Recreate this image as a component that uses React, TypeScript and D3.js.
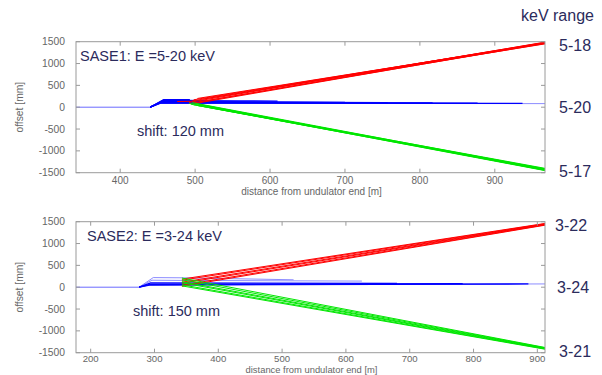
import React from "react";
import * as d3 from "d3";

type Pt = [number, number];

// ---------- data ----------
const yTicks = [1500, 1000, 500, 0, -500, -1000, -1500];
const sase1XTicks = [400, 500, 600, 700, 800, 900];
const sase2XTicks = [200, 300, 400, 500, 600, 700, 800, 900];
const sase1XDomain: Pt = [341, 967];
const sase2XDomain: Pt = [177, 912];
const yDomain: Pt = [-1500, 1500];

const sase1Title = "SASE1: E =5-20 keV";
const sase2Title = "SASE2: E =3-24 keV";
const sase1Shift = "shift: 120 mm";
const sase2Shift = "shift: 150 mm";
const rangeHeader = "keV range";
const sase1Ranges = ["5-18", "5-20", "5-17"];
const sase2Ranges = ["3-22", "3-24", "3-21"];
const xLabel = "distance from undulator end [m]";
const yLabel = "offset [mm]";

const sase1BaseLine: Pt[] = [[341, 0], [440, 0]];
const sase1Blue: Pt[][] = [
  [[440, 0], [458, 175], [493, 172]],
  [[440, 0], [457, 155], [560, 145], [610, 140]],
  [[440, 0], [456, 135], [700, 112]],
  [[440, 0], [455, 122], [757, 102]],
  [[440, 0], [455, 112], [817, 96]],
  [[440, 0], [454, 102], [877, 90]],
  [[440, 0], [454, 95], [937, 86]],
];
const sase1LightBlue: Pt[][] = [
  [[454, 90], [967, 82]],
  [[475, 160], [510, 160]],
];
const sase1Red: Pt[][] = [
  [[476, 130], [495, 135]],
  [[492, 110], [967, 1490]],
  [[495, 140], [967, 1485]],
  [[497, 95], [967, 1480]],
  [[498, 170], [967, 1475]],
  [[500, 85], [967, 1470]],
  [[503, 200], [967, 1465]],
  [[506, 125], [967, 1458]],
  [[510, 185], [967, 1450]],
];
const sase1Green: Pt[][] = [
  [[492, 90], [967, -1400]],
  [[494, 70], [967, -1410]],
  [[496, 105], [967, -1418]],
  [[498, 55], [967, -1425]],
  [[500, 80], [967, -1432]],
  [[503, 40], [967, -1440]],
  [[506, 65], [967, -1446]],
  [[509, 30], [967, -1452]],
];

const sase2BaseLine: Pt[] = [[177, 0], [276, 0]];
const sase2Blue: Pt[][] = [
  [[276, 0], [294, 100], [680, 88]],
  [[276, 0], [293, 65], [783, 80]],
  [[276, 0], [292, 50], [886, 75]],
];
const sase2LightBlue: Pt[][] = [
  [[276, 0], [298, 220], [345, 215], [518, 170]],
  [[276, 0], [296, 160], [345, 155], [625, 140]],
  [[292, 50], [912, 75]],
];
const sase2Red: Pt[][] = [
  [[343, 20], [912, 1420]],
  [[343, 45], [912, 1428]],
  [[343, 90], [912, 1436]],
  [[343, 115], [912, 1444]],
  [[343, 160], [912, 1452]],
  [[343, 185], [912, 1460]],
];
const sase2Green: Pt[][] = [
  [[343, 30], [912, -1420]],
  [[343, 55], [912, -1412]],
  [[343, 100], [912, -1404]],
  [[343, 125], [912, -1396]],
  [[343, 170], [912, -1388]],
  [[343, 210], [912, -1380]],
];

// ---------- layout ----------
const W = 602;
const H = 375;
const FONT = "'Liberation Sans', Arial, sans-serif";
const NAVY = "#2b2b5c";
const GRAY = "#666";
const FRAME = "#9a9a9a";

interface PanelProps {
  top: number;
  bottom: number;
  xDomain: Pt;
  xTicks: number[];
  base: Pt[];
  blue: Pt[][];
  lightBlue: Pt[][];
  red: Pt[][];
  green: Pt[][];
  title: string;
  titleX: number;
  shift: string;
  shiftX: number;
  ranges: string[];
  rangeX: number[];
  tickDy: number;
  tickSize: number;
  labelDy: number;
  labelSize: number;
}

function Panel(p: PanelProps) {
  const left = 76;
  const right = 545;
  const x = d3.scaleLinear().domain(p.xDomain).range([left, right]);
  const y = d3.scaleLinear().domain(yDomain).range([p.bottom, p.top]);
  const line = d3
    .line<Pt>()
    .x((d) => x(d[0]))
    .y((d) => y(d[1]));
  const tl = 4;
  const mid = (p.top + p.bottom) / 2;
  return (
    <g fontFamily={FONT}>
      <defs>
        <clipPath id={`clip${p.top}`}>
          <rect x={left} y={p.top} width={right - left} height={p.bottom - p.top} />
        </clipPath>
      </defs>
      <g clipPath={`url(#clip${p.top})`} fill="none" strokeWidth={1}>
        <path d={line(p.base) || ""} stroke="#6a6aff" />
        {p.lightBlue.map((d, i) => (
          <path key={"lb" + i} d={line(d) || ""} stroke="#8c8cff" />
        ))}
        {p.blue.map((d, i) => (
          <path key={"b" + i} d={line(d) || ""} stroke="#0000ff" strokeWidth={1.3} />
        ))}
        {p.red.map((d, i) => (
          <path key={"r" + i} d={line(d) || ""} stroke="#ff0000" />
        ))}
        {p.green.map((d, i) => (
          <path key={"g" + i} d={line(d) || ""} stroke="#00e600" />
        ))}
      </g>
      <rect
        x={left}
        y={p.top}
        width={right - left}
        height={p.bottom - p.top}
        fill="none"
        stroke={FRAME}
        strokeWidth={1}
      />
      {p.xTicks.map((t) => (
        <g key={"xt" + t}>
          <line x1={x(t)} x2={x(t)} y1={p.bottom} y2={p.bottom - tl} stroke={FRAME} />
          <line x1={x(t)} x2={x(t)} y1={p.top} y2={p.top + tl} stroke={FRAME} />
          <text
            x={x(t)}
            y={p.bottom + p.tickDy}
            fontSize={p.tickSize}
            fill={GRAY}
            textAnchor="middle"
          >
            {t}
          </text>
        </g>
      ))}
      {yTicks.map((t) => (
        <g key={"yt" + t}>
          <line x1={left} x2={left + tl} y1={y(t)} y2={y(t)} stroke={FRAME} />
          <line x1={right} x2={right - tl} y1={y(t)} y2={y(t)} stroke={FRAME} />
          <text
            x={left - 11}
            y={y(t) + 3.6}
            fontSize={10.3}
            fill={GRAY}
            textAnchor="end"
          >
            {t}
          </text>
        </g>
      ))}
      <text
        x={(left + right) / 2 + 1}
        y={p.bottom + p.labelDy}
        fontSize={p.labelSize}
        fill={GRAY}
        textAnchor="middle"
      >
        {xLabel}
      </text>
      <text
        transform={`translate(23,${mid}) rotate(-90)`}
        fontSize={10.3}
        fill={GRAY}
        textAnchor="middle"
      >
        {yLabel}
      </text>
      <text x={p.titleX} y={p.top + 19} fontSize={14.5} fill={NAVY}>
        {p.title}
      </text>
      <text x={p.shiftX} y={y(-660)} fontSize={14.5} fill={NAVY}>
        {p.shift}
      </text>
      {p.ranges.map((r, i) => {
        const yy = i === 0 ? p.top + 3 : i === 1 ? y(0) : p.bottom - 2;
        return (
          <text key={r} x={p.rangeX[i]} y={yy + 6} fontSize={16} fill={NAVY}>
            {r}
          </text>
        );
      })}
    </g>
  );
}

export default function App() {
  return (
    <svg
      width={W}
      height={H}
      style={{ position: "absolute", left: 0, top: 0, background: "#fff" }}
    >
      <rect width={W} height={H} fill="#fff" />
      <text x={521} y={21} fontSize={16} fill={NAVY} fontFamily={FONT}>
        {rangeHeader}
      </text>
      <Panel
        top={41.7}
        bottom={172.7}
        xDomain={sase1XDomain}
        xTicks={sase1XTicks}
        base={sase1BaseLine}
        blue={sase1Blue}
        lightBlue={sase1LightBlue}
        red={sase1Red}
        green={sase1Green}
        title={sase1Title}
        titleX={80}
        shift={sase1Shift}
        shiftX={137}
        ranges={sase1Ranges}
        rangeX={[559, 559, 559]}
        tickDy={11}
        tickSize={10}
        labelDy={22.5}
        labelSize={10}
      />
      <Panel
        top={221.7}
        bottom={352.7}
        xDomain={sase2XDomain}
        xTicks={sase2XTicks}
        base={sase2BaseLine}
        blue={sase2Blue}
        lightBlue={sase2LightBlue}
        red={sase2Red}
        green={sase2Green}
        title={sase2Title}
        titleX={87}
        shift={sase2Shift}
        shiftX={133}
        ranges={sase2Ranges}
        rangeX={[555, 557, 559]}
        tickDy={9.5}
        tickSize={9.6}
        labelDy={19.8}
        labelSize={9.4}
      />
    </svg>
  );
}
